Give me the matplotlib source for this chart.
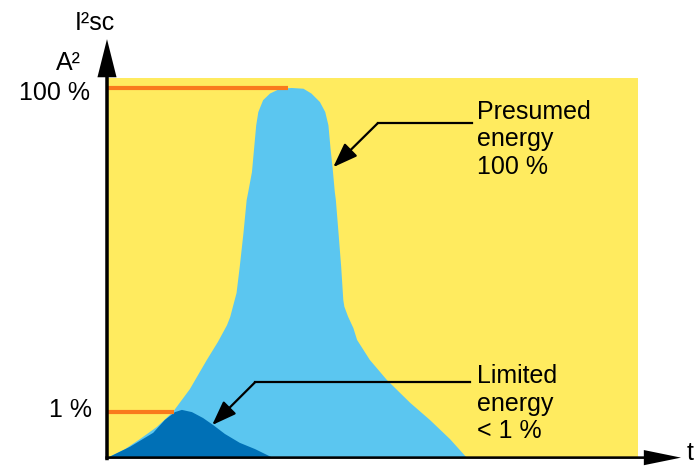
import numpy as np
import matplotlib
matplotlib.use('Agg')
import matplotlib.pyplot as plt

plt.rcParams['font.family'] = ['Liberation Sans', 'DejaVu Sans']

# schematic time axis (0..100) and relative energy (peak = 100)
presumed_t = [0, 3.4, 6.2, 9.4, 12.4, 15.6, 18.8, 20.9, 22.6, 23.2, 23.9, 24.4, 25.0,
              25.7, 26.3, 26.6, 27.3, 27.7, 28.1, 28.5, 29.4, 30.7, 32.6, 34.8,
              37.0, 38.5, 40.1, 41.1, 41.7, 42.1, 42.5, 42.9, 43.1, 43.6, 44.1,
              44.5, 44.7, 45.4, 46.4, 47.1, 49.5, 52.7, 57.1, 60.8, 64.6, 67.8]
presumed_e = [0, 2.4, 5.1, 8.4, 12.4, 18.6, 26.5, 31.4, 35.9, 38.1, 41.9, 44.6, 51.7,
              60.8, 69.7, 71.9, 77.3, 83.6, 89.9, 93.5, 96.7, 98.5, 99.8, 100,
              99.8, 98.5, 96.2, 93.5, 89.9, 83.6, 78.2, 71.9, 69.7, 60.8, 51.7,
              42.7, 40.9, 38.2, 35.1, 31.9, 26.5, 21.1, 14.9, 10.3, 5.1, 0]

limited_t = [0, 4.3, 8.7, 10.9, 12.8, 14.1, 16.0, 18.1, 20.0, 22.2, 25.0, 27.9, 31.3]
limited_e = [0, 3.0, 6.8, 10.3, 12.4, 13.0, 12.4, 10.8, 8.9, 6.5, 4.1, 2.4, 0]

level_pos = [12.4, 100]
level_end = [12.6, 34.1]
level_labels = ['1 %', '100 %']

yellow = '#FFEB5F'
light_blue = '#5BC6F0'
dark_blue = '#0070B6'
orange = '#F97A1C'

fig = plt.figure(figsize=(6.97, 4.67), dpi=100)
ax = fig.add_axes([107 / 697, 9 / 467, 531 / 697, 380 / 467])
ax.set_facecolor(yellow)
ax.set_xlim(0, 100)
ax.set_ylim(0, 102.7)
for s in ax.spines.values():
    s.set_visible(False)
ax.set_xticks([])
ax.set_yticks([])

ax.fill(presumed_t, presumed_e, color=light_blue, lw=0, zorder=2)
ax.fill(limited_t, limited_e, color=dark_blue, lw=0, zorder=3)

# orange level lines
for pos, end in zip(level_pos, level_end):
    ax.plot([0, end], [pos, pos], color=orange, lw=3, solid_capstyle='butt', zorder=4)

# axis arrows
ax.arrow(0, -0.6, 0, 113.8, width=0.66, head_width=3.6, head_length=10.3,
         length_includes_head=True, color='black', lw=0, clip_on=False, zorder=6)
ax.arrow(-0.3, 0.1, 108.4, 0, width=0.7, head_width=4.1, head_length=7.0,
         length_includes_head=True, color='black', lw=0, clip_on=False, zorder=6)

fs = 18
ax.text(-3.2, 98.6, level_labels[1], ha='right', va='center', fontsize=fs, clip_on=False)
ax.text(-2.8, 13.0, level_labels[0], ha='right', va='center', fontsize=fs, clip_on=False)
ax.text(-7.3, 106.8, 'A²', ha='center', va='center', fontsize=fs, clip_on=False)
ax.text(-2.3, 117.6, 'I²sc', ha='center', va='center', fontsize=fs, clip_on=False)
ax.text(109.8, 1.4, 't', ha='center', va='center', fontsize=fs, clip_on=False)

# callouts
arrow_kw = dict(arrowstyle='-|>,head_length=1.5,head_width=0.55', color='black',
                lw=1.6, shrinkA=0, shrinkB=0, mutation_scale=10)
ax.plot([68.7, 51.0], [90.5, 90.5], color='black', lw=1.6, zorder=5)
ax.annotate('', xy=(42.6, 78.6), xytext=(51.0, 90.5), arrowprops=arrow_kw, zorder=5)
ax.text(69.7, 86.1, 'Presumed\nenergy\n100 %', ha='left', va='center', fontsize=fs)

ax.plot([68.4, 27.9], [20.5, 20.5], color='black', lw=1.6, zorder=5)
ax.annotate('', xy=(19.8, 8.9), xytext=(27.9, 20.5), arrowprops=arrow_kw, zorder=5)
ax.text(69.7, 14.7, 'Limited\nenergy\n< 1 %', ha='left', va='center', fontsize=fs)

fig.savefig('out.png', dpi=100)
